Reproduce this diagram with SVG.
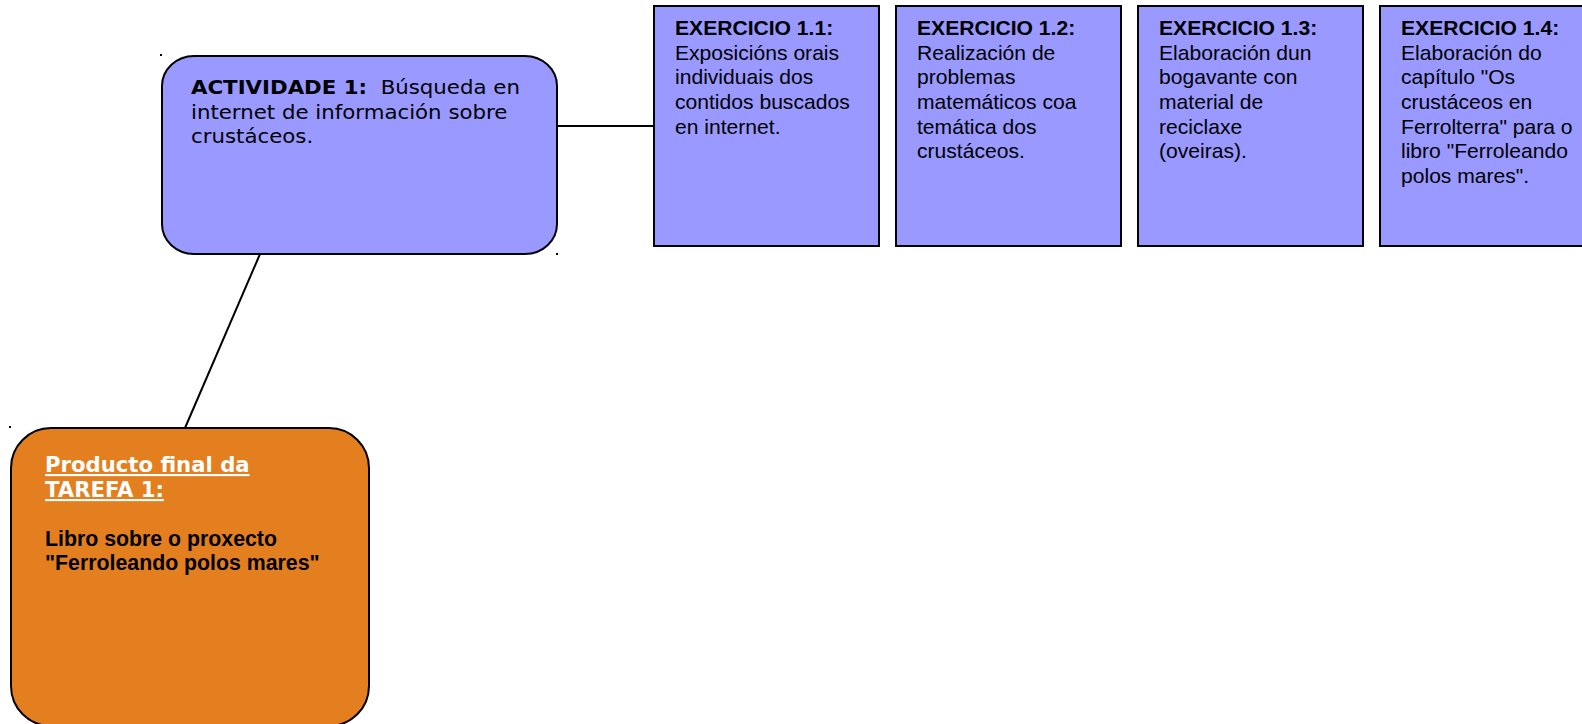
<svg xmlns="http://www.w3.org/2000/svg" width="1582" height="724" viewBox="0 0 1582 724">
<style>
.blue{fill:#9999ff;stroke:#000;stroke-width:2}
.orange{fill:#e37f1e;stroke:#000;stroke-width:2}
.conn{stroke:#000;stroke-width:2;fill:none}
.dot{fill:#000}
.ex{font-family:"Liberation Sans",Arial,sans-serif;font-size:20px;fill:#000}
.exb{font-weight:bold}
.act{font-family:"DejaVu Sans",sans-serif;font-size:20px;fill:#000}
.pt{font-family:"DejaVu Sans",sans-serif;font-size:21.2px;font-weight:bold;fill:#fff;text-decoration:underline}
.pb{font-family:"Liberation Sans",Arial,sans-serif;font-size:21.3px;font-weight:bold;fill:#000}
</style>
<rect width="1582" height="724" fill="#fff"/>
<g id="connectors">
<line class="conn" x1="557" y1="126" x2="654" y2="126"/>
<line class="conn" x1="260" y1="254" x2="185" y2="428"/>
</g>
<g id="actividade1">
<rect class="blue" x="162" y="56" width="395" height="198" rx="32" ry="30"/>
<rect class="dot" x="160" y="54" width="2" height="2"/>
<rect class="dot" x="556" y="253" width="2" height="2"/>
<g transform="translate(191,0) scale(1.065,1)">
<text class="act" xml:space="preserve"><tspan x="0" y="94"><tspan font-weight="bold">ACTIVIDADE 1:</tspan>  Búsqueda en</tspan><tspan x="0" y="118.7">internet de información sobre</tspan><tspan x="0" y="143.4">crustáceos.</tspan></text>
</g>
</g>
<g id="exercicio11">
<rect class="blue" x="654" y="6" width="225" height="240"/>
<g transform="translate(675,0) scale(1.055,1)">
<text class="ex"><tspan x="0" y="35" class="exb">EXERCICIO 1.1:</tspan><tspan x="0" y="59.7">Exposicións orais</tspan><tspan x="0" y="84.4">individuais dos</tspan><tspan x="0" y="109.1">contidos buscados</tspan><tspan x="0" y="133.8">en internet.</tspan></text>
</g>
</g>
<g id="exercicio12">
<rect class="blue" x="896" y="6" width="225" height="240"/>
<g transform="translate(917,0) scale(1.055,1)">
<text class="ex"><tspan x="0" y="35" class="exb">EXERCICIO 1.2:</tspan><tspan x="0" y="59.7">Realización de</tspan><tspan x="0" y="84.4">problemas</tspan><tspan x="0" y="109.1">matemáticos coa</tspan><tspan x="0" y="133.8">temática dos</tspan><tspan x="0" y="158.5">crustáceos.</tspan></text>
</g>
</g>
<g id="exercicio13">
<rect class="blue" x="1138" y="6" width="225" height="240"/>
<g transform="translate(1159,0) scale(1.055,1)">
<text class="ex"><tspan x="0" y="35" class="exb">EXERCICIO 1.3:</tspan><tspan x="0" y="59.7">Elaboración dun</tspan><tspan x="0" y="84.4">bogavante con</tspan><tspan x="0" y="109.1">material de</tspan><tspan x="0" y="133.8">reciclaxe</tspan><tspan x="0" y="158.5">(oveiras).</tspan></text>
</g>
</g>
<g id="exercicio14">
<rect class="blue" x="1380" y="6" width="225" height="240"/>
<g transform="translate(1401,0) scale(1.055,1)">
<text class="ex"><tspan x="0" y="35" class="exb">EXERCICIO 1.4:</tspan><tspan x="0" y="59.7">Elaboración do</tspan><tspan x="0" y="84.4">capítulo "Os</tspan><tspan x="0" y="109.1">crustáceos en</tspan><tspan x="0" y="133.8">Ferrolterra" para o</tspan><tspan x="0" y="158.5">libro "Ferroleando</tspan><tspan x="0" y="183.2">polos mares".</tspan></text>
</g>
</g>
<g id="producto">
<rect class="orange" x="11" y="428" width="358" height="298" rx="40" ry="40"/>
<rect class="dot" x="9" y="426" width="2" height="2"/>
<text class="pt"><tspan x="45" y="472">Producto final da</tspan><tspan x="45" y="497">TAREFA 1:</tspan></text>
<text class="pb"><tspan x="45" y="546">Libro sobre o proxecto</tspan><tspan x="45" y="570">"Ferroleando polos mares"</tspan></text>
</g>
</svg>
